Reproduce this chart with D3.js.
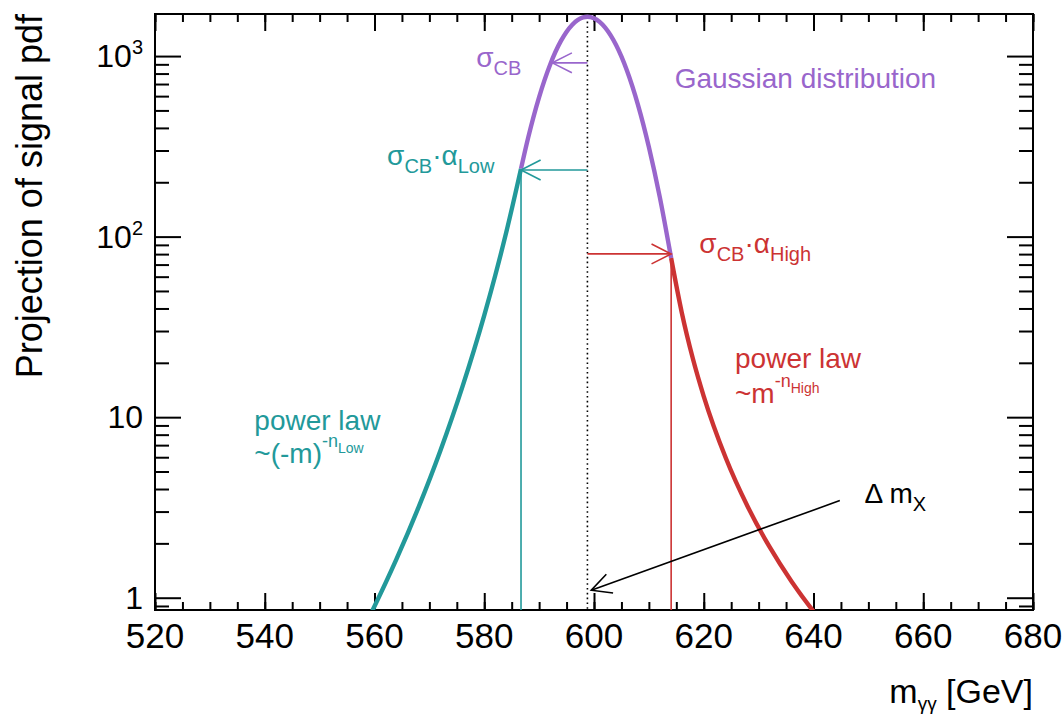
<!DOCTYPE html>
<html>
<head>
<meta charset="utf-8">
<script src="https://cdn.jsdelivr.net/npm/d3@7"></script>
<style>
  body { margin: 0; background: #fff; }
  text { font-family: "Liberation Sans", Arial, Helvetica, sans-serif; }
</style>
</head>
<body>
<div id="chart"></div>
<script>
// signal pdf, three pieces (m in GeV, pdf value)
const lowTailMass = [558, 560, 564, 568, 572, 576, 580, 582, 584, 586.7];
const lowTailPdf = [0.675, 0.896, 1.634, 3.155, 6.52, 14.67, 36.67, 60.9, 105.3, 238];
const coreMass = [586.7, 588, 590, 592, 594, 596, 598, 598.8, 600, 602, 604, 606, 608, 610, 612, 614.06];
const corePdf = [238, 353, 593, 896, 1217, 1488, 1636, 1650, 1619, 1441, 1154, 832, 539, 314, 165, 76];
const highTailMass = [614.06, 616, 618, 620, 624, 628, 632, 636, 640, 642];
const highTailPdf = [76, 37.9, 21.2, 13.05, 5.96, 3.2, 1.91, 1.23, 0.84, 0.706];

// peak position (dotted line) and the arrows
const peakMass = 598.8;
const peakPdf = 1650;
const arrowMass1 = [598.8, 598.8, 598.8, 644.8];
const arrowPdf1 = [917, 234, 80.2, 3.45];
const arrowMass2 = [592.4, 586.7, 614.06, 599.5];
const arrowPdf2 = [917, 234, 80.2, 1.1];
const boundaryMass = [586.7, 614.06];
const boundaryPdf = [234, 80.2];

// annotation texts: [string, kind]
const labelParts = [
  [["Gaussian distribution", ""]],
  [["σ", ""], ["CB", "sub"]],
  [["σ", ""], ["CB", "sub"], ["·α", ""], ["Low", "sub"]],
  [["σ", ""], ["CB", "sub"], ["·α", ""], ["High", "sub"]],
  [["power law", ""]],
  [["~(-m)", ""], ["-n", "sup"], ["Low", "supsub"]],
  [["power law", ""]],
  [["~m", ""], ["-n", "sup"], ["High", "supsub"]],
  [["Δ m", ""], ["X", "sub"]]
];
const labelMass = [614.7, 578.55, 562.3, 619.2, 538.1, 538.1, 625.7, 625.7, 649.3];
const labelPdf = [667, 871, 249.5, 81.2, 8.49, 5.58, 18.74, 11.99, 3.35];

// axes
const xDomain = [520, 680];
const yDomain = [0.855, 1710];
const xMajorTicks = [520, 540, 560, 580, 600, 620, 640, 660, 680];
const xMinorTicks = d3.range(520, 681, 5);
const yMajorTicks = [1, 10, 100, 1000];
const yTickLabels = ["1", "10", "10^2", "10^3"];
const yMinorTicks = [0.9, 2, 3, 4, 5, 6, 7, 8, 9, 20, 30, 40, 50, 60, 70, 80, 90,
  200, 300, 400, 500, 600, 700, 800, 900];

const purple = "#9966cc";
const teal = "#22999a";
const red = "#cc3333";
const arrowColors = [purple, teal, red, "#000"];
const labelColors = [purple, purple, teal, red, teal, teal, red, red, "#000"];

function init() {
  const margin = { top: 14, right: 31, bottom: 107, left: 155 };
  const w = 1064 - margin.left - margin.right;
  const h = 717 - margin.top - margin.bottom;

  const xScale = d3.scaleLinear().domain(xDomain).range([0, w]);
  const yScale = d3.scaleLog().domain(yDomain).range([h, 0]);

  const svgRoot = d3.select("#chart").append("svg")
    .attr("width", 1064).attr("height", 717)
    .style("background", "#fff");

  const svg = svgRoot.append("g")
    .attr("transform", "translate(" + margin.left + "," + margin.top + ")");

  svg.append("clipPath").attr("id", "clip")
    .append("rect").attr("width", w).attr("height", h);

  // ticks (all pointing into the frame)
  function tickAxis(axis, pos) {
    const g = svg.append("g").attr("transform", pos).call(axis);
    g.select(".domain").remove();
    g.selectAll(".tick text").remove();
    g.selectAll(".tick line").attr("stroke", "#000").attr("stroke-width", 2);
    return g;
  }
  tickAxis(d3.axisBottom(xScale).tickValues(xMinorTicks).tickSize(-8), "translate(0," + h + ")");
  tickAxis(d3.axisBottom(xScale).tickValues(xMajorTicks).tickSize(-17), "translate(0," + h + ")");
  tickAxis(d3.axisTop(xScale).tickValues(xMinorTicks).tickSize(-8), "translate(0,0)");
  tickAxis(d3.axisTop(xScale).tickValues(xMajorTicks).tickSize(-17), "translate(0,0)");
  tickAxis(d3.axisLeft(yScale).tickValues(yMinorTicks).tickSize(-14), "translate(0,0)");
  tickAxis(d3.axisLeft(yScale).tickValues(yMajorTicks).tickSize(-26), "translate(0,0)");
  tickAxis(d3.axisRight(yScale).tickValues(yMinorTicks).tickSize(-14), "translate(" + w + ",0)");
  tickAxis(d3.axisRight(yScale).tickValues(yMajorTicks).tickSize(-26), "translate(" + w + ",0)");

  // frame
  svg.append("rect").attr("width", w).attr("height", h)
    .attr("fill", "none").attr("stroke", "#000").attr("stroke-width", 2);

  // tick labels
  svg.append("g").selectAll("text").data(xMajorTicks).join("text")
    .attr("x", (d) => xScale(d)).attr("y", h + 38)
    .attr("text-anchor", "middle").style("font-size", "35px")
    .text((d) => d);

  svg.append("g").selectAll("text").data(yMajorTicks).join("text")
    .attr("x", -12).attr("y", (d) => yScale(d) + 11)
    .attr("text-anchor", "end").style("font-size", "32px")
    .each(function (d, i) {
      const parts = yTickLabels[i].split("^");
      const t = d3.select(this);
      t.append("tspan").text(parts[0]);
      if (parts[1]) {
        t.append("tspan").attr("dy", -13).style("font-size", "20px").text(parts[1]);
      }
    });

  // axis titles
  const xt = svgRoot.append("text")
    .attr("x", margin.left + w).attr("y", 703)
    .attr("text-anchor", "end").style("font-size", "34px");
  xt.append("tspan").text("m");
  xt.append("tspan").attr("dy", 7).style("font-size", "19px").text("γγ");
  xt.append("tspan").attr("dy", -7).text(" [GeV]");

  svgRoot.append("text")
    .attr("transform", "rotate(-90)")
    .attr("x", -margin.top).attr("y", 42)
    .attr("text-anchor", "end").style("font-size", "36px")
    .text("Projection of signal pdf");

  const plot = svg.append("g").attr("clip-path", "url(#clip)");

  // dotted line at the peak
  plot.append("line")
    .attr("x1", xScale(peakMass)).attr("x2", xScale(peakMass))
    .attr("y1", yScale(peakPdf)).attr("y2", h)
    .attr("stroke", "#000").attr("stroke-width", 1.6)
    .attr("stroke-dasharray", "1.6,3.2");

  // vertical lines at the tail boundaries
  plot.selectAll(".bound").data(boundaryMass).join("line")
    .attr("class", "bound")
    .attr("x1", (d) => xScale(d)).attr("x2", (d) => xScale(d))
    .attr("y1", (d, i) => yScale(boundaryPdf[i])).attr("y2", h)
    .attr("stroke", (d, i) => [teal, red][i]).attr("stroke-width", 1.6);

  // the curve
  const line = d3.line()
    .x((d) => xScale(d[0]))
    .y((d) => yScale(d[1]))
    .curve(d3.curveMonotoneX);
  const pieces = [
    [lowTailMass, lowTailPdf, teal],
    [coreMass, corePdf, purple],
    [highTailMass, highTailPdf, red]
  ];
  pieces.forEach(function (p) {
    plot.append("path")
      .datum(p[0].map((m, i) => [m, p[1][i]]))
      .attr("fill", "none").attr("stroke", p[2])
      .attr("stroke-width", 4.4).attr("stroke-linecap", "butt")
      .attr("d", line);
  });

  // arrows with open heads
  arrowMass1.forEach(function (m1, i) {
    const x1 = xScale(m1), y1 = yScale(arrowPdf1[i]);
    const x2 = xScale(arrowMass2[i]), y2 = yScale(arrowPdf2[i]);
    const a = Math.atan2(y2 - y1, x2 - x1);
    const len = 22, spread = 0.47;
    const head = "M" + (x2 - len * Math.cos(a - spread)) + "," + (y2 - len * Math.sin(a - spread)) +
      "L" + x2 + "," + y2 +
      "L" + (x2 - len * Math.cos(a + spread)) + "," + (y2 - len * Math.sin(a + spread));
    plot.append("line")
      .attr("x1", x1).attr("y1", y1).attr("x2", x2).attr("y2", y2)
      .attr("stroke", arrowColors[i]).attr("stroke-width", 1.6);
    plot.append("path").attr("d", head)
      .attr("fill", "none").attr("stroke", arrowColors[i]).attr("stroke-width", 1.6);
  });

  // annotation texts
  const offsets = { "": [0, 28], sub: [8, 20], sup: [-16, 18], supsub: [-10, 14] };
  labelParts.forEach(function (parts, i) {
    const t = svg.append("text")
      .attr("x", xScale(labelMass[i])).attr("y", yScale(labelPdf[i]))
      .attr("fill", labelColors[i]).style("font-size", "28px");
    let cur = 0;
    parts.forEach(function (p) {
      const o = offsets[p[1]];
      t.append("tspan").attr("dy", o[0] - cur).style("font-size", o[1] + "px").text(p[0]);
      cur = o[0];
    });
  });
}

window.onload = init;
</script>
</body>
</html>
